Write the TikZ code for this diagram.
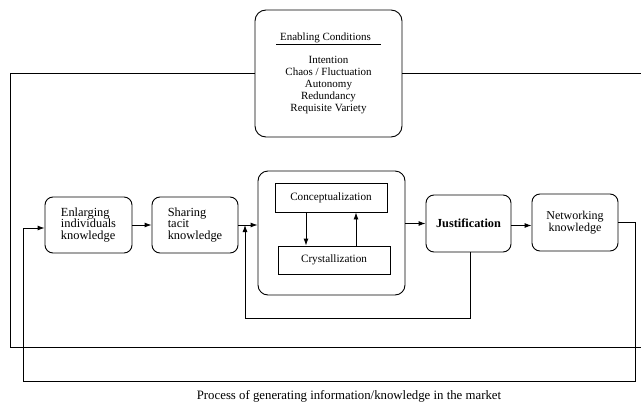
\documentclass[tikz,border=0pt]{standalone}
\usepackage{fontspec}
\setmainfont{Liberation Serif}
\usetikzlibrary{arrows.meta}
\begin{document}
\begin{tikzpicture}[x=1pt,y=-1pt, line width=0.9pt,
  rbox/.style={draw, rounded corners=8pt, inner sep=0pt},
  sbox/.style={draw, inner sep=0pt},
  arr/.style={-{Latex[length=7pt,width=5pt]}},
  bigtxt/.style={font=\fontsize{12.4}{11.6}\selectfont, align=left},
  midtxt/.style={font=\fontsize{11.2}{12}\selectfont}
]
\useasboundingbox (0,0) rectangle (641,402);
\clip (0,0) rectangle (641,402);

% Enabling conditions box
\node[rbox, rounded corners=11pt, minimum width=147pt, minimum height=127pt,
      font=\fontsize{11}{12}\selectfont, align=center] (ena) at (328.5,73.5)
  {\underline{\hspace{4pt}Enabling Conditions\hspace{10pt}}\\[11pt]
   Intention\\ Chaos / Fluctuation\\ Autonomy\\ Redundancy\\ Requisite Variety};

% main chain
\node[rbox, minimum width=87pt, minimum height=56pt, bigtxt] (enl) at (88.5,225)
  {Enlarging\\ individuals\\ knowledge};
\node[rbox, minimum width=86pt, minimum height=56pt, bigtxt] (sha) at (195,225)
  {Sharing\\ tacit\\ knowledge};
\node[rbox, rounded corners=10pt, minimum width=147pt, minimum height=124pt] (out) at (331.5,233) {};
\node[sbox, minimum width=112pt, minimum height=29pt, midtxt] (con) at (331,197.5) {Conceptualization};
\node[sbox, minimum width=112pt, minimum height=28pt, midtxt] (cry) at (334,260) {Crystallization};
\node[rbox, minimum width=85pt, minimum height=57pt, font=\fontsize{12.3}{12}\selectfont\bfseries] (jus) at (468.5,223.5) {Justification};
\node[rbox, minimum width=86pt, minimum height=57pt, font=\fontsize{12}{11.7}\selectfont, align=center] (net) at (575,222.5)
  {Networking\\ knowledge};

% caption
\node[font=\fontsize{12.8}{14}\selectfont, inner sep=0pt] (cap) at (349,396)
  {Process of generating information/knowledge in the market};

% arrows along the chain
\draw[arr] (enl.east) -- (sha.west);
\draw[arr] (sha.east) -- (sha.east -| out.west);
\draw[arr] (out.east |- jus.west) -- (jus.west);
\draw[arr] ([yshift=-2pt]jus.east) -- ([yshift=-2pt]jus.east -| net.west);

% inner arrows
\draw[arr] ([xshift=-25pt]con.south) -- ([xshift=-25pt]con.south |- cry.north);
\draw[arr] ([xshift=22pt]cry.north) -- ([xshift=22pt]cry.north |- con.south);

% feedback from Justification
\coordinate (fb) at (245,318);
\draw[arr] ([xshift=2pt]jus.south) |- (fb) -- (fb |- sha.east);

% enabling conditions frame
\coordinate (bl) at (10,347);
\coordinate (br) at (645,347);
\draw (ena.west) -| (bl) -- (br) |- (ena.east);

% outer loop from Networking
\coordinate (nr) at (635,381);
\coordinate (nl) at (23,381);
\draw[arr] (net.east) -| (nr) -- (nl) |- ([yshift=-3pt]enl.west);
\end{tikzpicture}
\end{document}
